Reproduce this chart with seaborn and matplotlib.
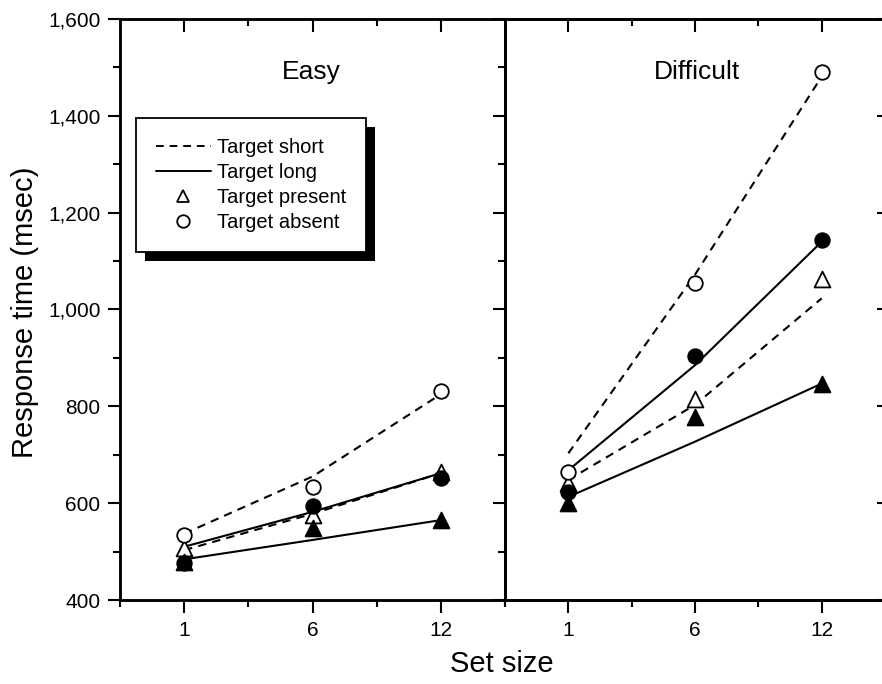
import numpy as np
import pandas as pd
import seaborn as sns
from matplotlib import pyplot as plt
from matplotlib.lines import Line2D
from matplotlib.patches import Rectangle
from matplotlib.ticker import FuncFormatter

# set sizes on the x axis (drawn as equally spaced categories)
set_sizes = ['1', '6', '12']

# observed mean RTs (markers)
easy_short_present = [507, 575, 665]
easy_short_absent = [534, 633, 832]
easy_long_present = [478, 548, 565]
easy_long_absent = [476, 594, 651]
diff_short_present = [641, 816, 1064]
diff_short_absent = [665, 1054, 1491]
diff_long_present = [600, 779, 847]
diff_long_absent = [624, 904, 1143]

# model predictions (lines)
easy_fit_short_present = [503, 578, 662]
easy_fit_short_absent = [537, 655, 825]
easy_fit_long_present = [484, 524, 565]
easy_fit_long_absent = [510, 582, 662]
diff_fit_short_present = [648, 803, 1023]
diff_fit_short_absent = [703, 1072, 1481]
diff_fit_long_present = [613, 727, 847]
diff_fit_long_absent = [668, 885, 1140]

sns.set_style('ticks', {'axes.edgecolor': 'black', 'xtick.color': 'black',
                        'ytick.color': 'black', 'text.color': 'black',
                        'axes.labelcolor': 'black'})
plt.rcParams['font.family'] = ['Liberation Sans', 'DejaVu Sans']

xpos = np.arange(len(set_sizes))
DASH = (0, (4, 3))


def draw_panel(ax, obs, fit):
    # obs / fit: dict keyed by (length, trial)
    for (length, trial), vals in fit.items():
        ls = DASH if length == 'short' else '-'
        sns.lineplot(x=xpos, y=vals, ax=ax, color='black', lw=1.5, linestyle=ls)
    # triangles first so the filled circles sit on top where they overlap
    for key in [('short', 'present'), ('long', 'present'),
                ('short', 'absent'), ('long', 'absent')]:
        length, trial = key
        marker = '^' if trial == 'present' else 'o'
        face = 'white' if length == 'short' else 'black'
        size = 130 if trial == 'present' else 110
        sns.scatterplot(x=xpos, y=obs[key], ax=ax, marker=marker, s=size,
                        color=face, edgecolor='black', linewidth=1.3, zorder=3)


fig = plt.figure(figsize=(8.82, 6.84), dpi=100)
ax1 = fig.add_axes([120 / 882, 84 / 684, 385 / 882, 581 / 684])
ax2 = fig.add_axes([505 / 882, 84 / 684, 380 / 882, 581 / 684], sharey=ax1)

draw_panel(ax1,
           {('short', 'present'): easy_short_present, ('short', 'absent'): easy_short_absent,
            ('long', 'present'): easy_long_present, ('long', 'absent'): easy_long_absent},
           {('short', 'present'): easy_fit_short_present, ('short', 'absent'): easy_fit_short_absent,
            ('long', 'present'): easy_fit_long_present, ('long', 'absent'): easy_fit_long_absent})
draw_panel(ax2,
           {('short', 'present'): diff_short_present, ('short', 'absent'): diff_short_absent,
            ('long', 'present'): diff_long_present, ('long', 'absent'): diff_long_absent},
           {('short', 'present'): diff_fit_short_present, ('short', 'absent'): diff_fit_short_absent,
            ('long', 'present'): diff_fit_long_present, ('long', 'absent'): diff_fit_long_absent})

for ax in (ax1, ax2):
    ax.set_xlim(-0.5, 2.5)
    ax.set_xticks(xpos)
    ax.set_xticklabels(set_sizes)
    ax.set_xticks([-0.5, 0.5, 1.5, 2.5], minor=True)
    ax.set_xlabel('')
    ax.set_ylabel('')
    ax.tick_params(axis='x', which='major', direction='out', length=9, width=1.5,
                   labelsize=15, pad=6)
    ax.tick_params(axis='x', which='minor', direction='out', length=5, width=1.5)
    ax.tick_params(axis='y', which='major', direction='out', length=9, width=1.5,
                   labelsize=15, pad=5)
    ax.tick_params(axis='y', which='minor', direction='out', length=5, width=1.5)
    for sp in ax.spines.values():
        sp.set_linewidth(1.8)
    # inward ticks along the top
    top = ax.twiny()
    top.set_xlim(-0.5, 2.5)
    top.set_xticks(xpos)
    top.set_xticks([0.5, 1.5], minor=True)
    top.tick_params(axis='x', which='major', direction='in', length=9, width=1.5, labeltop=False)
    top.tick_params(axis='x', which='minor', direction='in', length=5, width=1.5)
    for sp in top.spines.values():
        sp.set_linewidth(1.8)

ax1.set_ylim(400, 1600)
ax1.set_yticks(range(400, 1601, 200))
ax1.set_yticks(range(500, 1600, 200), minor=True)
ax1.yaxis.set_major_formatter(FuncFormatter(lambda v, p: f'{int(v):,}'))
ax2.tick_params(axis='y', which='both', labelleft=False)

# inward major ticks on the far right
right = ax2.twinx()
right.set_ylim(400, 1600)
right.set_yticks(range(400, 1601, 200))
right.tick_params(axis='y', direction='in', length=6, width=1.5, labelright=False)
for sp in right.spines.values():
    sp.set_linewidth(1.8)

ax1.text(0.496, 0.909, 'Easy', transform=ax1.transAxes, ha='center', va='center', fontsize=19)
ax2.text(0.505, 0.909, 'Difficult', transform=ax2.transAxes, ha='center', va='center', fontsize=19)

fig.text(25 / 882, 1 - 312 / 684, 'Response time (msec)', rotation=90,
         ha='center', va='center', fontsize=21)
fig.text(502 / 882, 1 - 664 / 684, 'Set size', ha='center', va='center', fontsize=21)

handles = [
    Line2D([], [], color='black', lw=1.4, linestyle=DASH, label='Target short'),
    Line2D([], [], color='black', lw=1.4, linestyle='-', label='Target long'),
    Line2D([], [], color='black', linestyle='none', marker='^', ms=9, mfc='white',
           mec='black', mew=1.3, label='Target present'),
    Line2D([], [], color='black', linestyle='none', marker='o', ms=9, mfc='white',
           mec='black', mew=1.3, label='Target absent'),
]
leg = ax1.legend(handles=handles, loc='upper left', bbox_to_anchor=(0.0416, 0.8296),
                 borderaxespad=0, fontsize=14.5, frameon=True, fancybox=False, framealpha=1,
                 edgecolor='black', handlelength=2.7, handletextpad=0.3,
                 labelspacing=0.3, borderpad=1.0)
leg.get_frame().set_linewidth(1.3)
leg.set_zorder(10)

# solid black drop shadow behind the legend box
fig.canvas.draw()
bb = leg.get_frame().get_window_extent(fig.canvas.get_renderer())
inv = fig.transFigure.inverted()
(x0, y0) = inv.transform((bb.x0 + 9, bb.y0 - 9))
(x1, y1) = inv.transform((bb.x1 + 9, bb.y1 - 9))
shadow = Rectangle((x0, y0), x1 - x0, y1 - y0, transform=fig.transFigure,
                   facecolor='black', edgecolor='none', zorder=9, clip_on=False)
ax1.add_patch(shadow)

fig.savefig('out.png', dpi=100)
